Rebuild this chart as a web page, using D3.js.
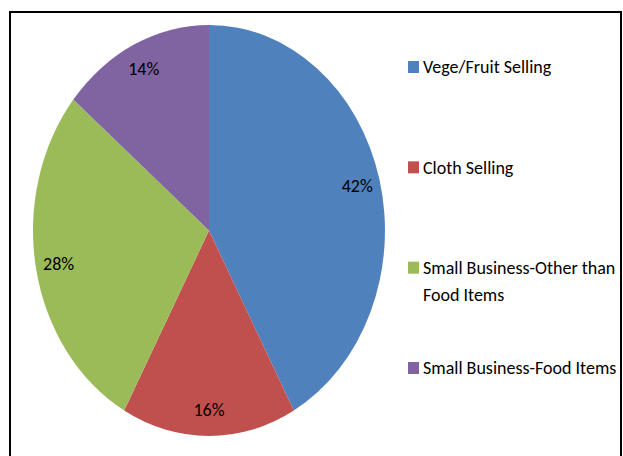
<!DOCTYPE html>
<style>
body {
    margin: 0;
    background: #fff;
}

text {
    font-family: Carlito, Lato, sans-serif;
    fill: #000;
}
</style>

<body>
    <script src="https://cdnjs.cloudflare.com/ajax/libs/d3/7.8.5/d3.min.js"></script>
    <div id="chart"></div>
    <script>
    var categories = ["Vege/Fruit Selling", "Cloth Selling", "Small Business-Other than Food Items", "Small Business-Food Items"];
    var legendLines = [["Vege/Fruit Selling"], ["Cloth Selling"], ["Small Business-Other than", "Food Items"], ["Small Business-Food Items"]];
    var values = [42, 16, 28, 14];
    var colors = ["#4F81BD", "#C0504D", "#9BBB59", "#8064A2"];

    var width = 623,
        height = 456;

    // the pie in the picture is stretched into an ellipse
    var cx = 209,
        cy = 230.5,
        rx = 176,
        ry = 205.5;

    var svg = d3.select("#chart")
        .append("svg")
        .attr("width", width)
        .attr("height", height);

    var pie = d3.pie()
        .sort(null)
        .value(function(d) { return d; });

    var arcs = pie(values);

    var arc = d3.arc()
        .innerRadius(0)
        .outerRadius(1);

    var slices = svg.append("g")
        .attr("transform", "translate(" + cx + "," + cy + ") scale(" + rx + "," + ry + ")");

    slices.selectAll("path")
        .data(arcs)
        .enter()
        .append("path")
        .attr("d", arc)
        .attr("fill", function(d, i) { return colors[i]; });

    // data labels, placed along the middle angle of each slice
    var k = 0.87;
    svg.selectAll("text.lbl")
        .data(arcs)
        .enter()
        .append("text")
        .attr("class", "lbl")
        .attr("x", function(d) {
            var a = (d.startAngle + d.endAngle) / 2;
            return cx + Math.sin(a) * rx * k;
        })
        .attr("y", function(d) {
            var a = (d.startAngle + d.endAngle) / 2;
            return cy - Math.cos(a) * ry * k;
        })
        .attr("dy", "0.35em")
        .attr("text-anchor", "middle")
        .style("font-size", "18px")
        .text(function(d) { return d.value + "%"; });

    // legend
    var legendY = d3.scalePoint()
        .domain(categories)
        .range([67, 368]);

    var legend = svg.selectAll("g.legend")
        .data(categories)
        .enter()
        .append("g")
        .attr("class", "legend")
        .attr("transform", function(d) { return "translate(408," + legendY(d) + ")"; });

    legend.append("rect")
        .attr("x", 0)
        .attr("y", -6)
        .attr("width", 11)
        .attr("height", 12)
        .attr("fill", function(d, i) { return colors[i]; });

    legend.each(function(d, i) {
        var t = d3.select(this).append("text")
            .attr("x", 15)
            .attr("y", 0)
            .style("font-size", "18px");
        legendLines[i].forEach(function(line, j) {
            t.append("tspan")
                .attr("x", 15)
                .attr("dy", j == 0 ? "0.35em" : "27px")
                .text(line);
        });
    });

    // frame around the chart area
    svg.append("rect")
        .attr("x", 10)
        .attr("y", 12)
        .attr("width", 611)
        .attr("height", 470)
        .attr("fill", "none")
        .attr("stroke", "#000")
        .attr("stroke-width", 2);
    </script>
</body>
